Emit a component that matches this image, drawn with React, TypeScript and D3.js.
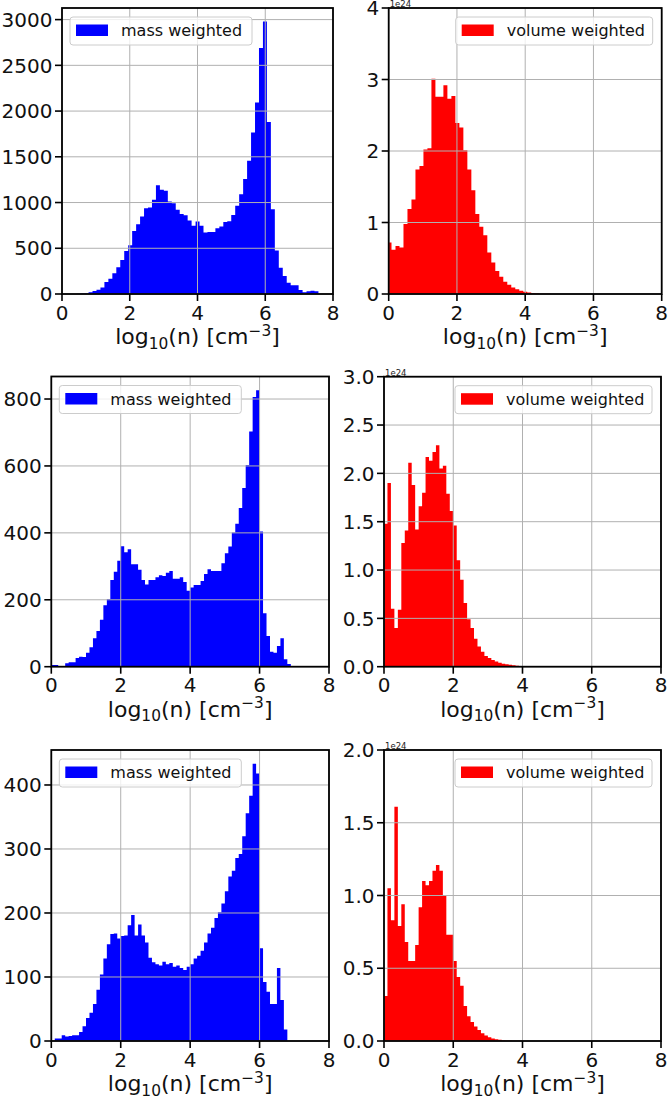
import { useEffect, useRef } from "react";
import * as d3 from "d3";

// bin layout (log10 n): top row uses ~0.117 wide bins, lower rows 0.1 wide bins
const topRowBins = { start: -0.035, width: 0.117 };
const lowerRowBins = { start: 0, width: 0.1 };

const xTicks = [0, 2, 4, 6, 8];

// mass weighted histograms (counts)
const massTop = [
  0, 0, 0, 0, 3, 5, 8, 18, 33, 47, 70, 131, 168, 226, 292, 372, 471, 533, 690, 763,
  847, 938, 945, 1030, 1190, 1139, 1130, 1011, 993, 920, 876, 861, 803, 745, 792, 745,
  672, 679, 679, 719, 737, 788, 796, 865, 964, 1091, 1256, 1456, 1767, 2095, 2690,
  2978, 1880, 927, 475, 288, 197, 124, 95, 95, 44, 18, 29, 36, 30, 0,
];
const massMid = [
  5, 5, 2, 2, 10, 13, 13, 26, 30, 29, 42, 58, 85, 107, 140, 184, 202, 259, 284, 317,
  360, 342, 351, 306, 306, 290, 259, 246, 259, 259, 267, 273, 271, 281, 286, 263, 263,
  267, 253, 227, 237, 244, 244, 256, 277, 291, 286, 286, 286, 309, 339, 359, 401, 427,
  474, 534, 603, 703, 806, 826, 404, 160, 92, 45, 42, 62, 85, 22, 8,
];
const massBottom = [
  0, 4, 4, 9, 7, 8, 9, 9, 14, 23, 36, 44, 58, 80, 104, 129, 151, 167, 168, 160, 164,
  165, 181, 197, 165, 182, 165, 154, 130, 123, 120, 118, 124, 120, 122, 116, 118, 114,
  111, 116, 120, 129, 133, 141, 154, 168, 177, 192, 201, 215, 234, 257, 266, 286, 292,
  320, 356, 383, 433, 418, 145, 92, 77, 58, 58, 114, 64, 18,
];

// volume weighted histograms (units of 1e24)
const volumeTop = [
  0.72, 0.62, 0.67, 0.65, 0.98, 1.19, 1.32, 1.74, 1.79, 2.02, 2.04, 3.01, 2.76, 2.76,
  2.92, 2.73, 2.77, 2.39, 2.33, 2.01, 1.74, 1.45, 1.12, 0.94, 0.82, 0.58, 0.44, 0.32,
  0.24, 0.17, 0.13, 0.09, 0.065, 0.047, 0.033, 0.022, 0.015, 0.009, 0.005, 0.003,
  0.002, 0.001, 0.001,
];
const volumeMid = [
  1.48, 1.9, 0.6, 0.4, 0.59, 1.28, 1.41, 2.11, 1.88, 1.42, 1.66, 1.8, 2.17, 2.13, 2.22,
  2.29, 2.05, 2.08, 1.79, 1.61, 1.46, 1.1, 0.9, 0.66, 0.49, 0.4, 0.29, 0.21, 0.155,
  0.11, 0.09, 0.07, 0.055, 0.04, 0.03, 0.025, 0.02, 0.015, 0.01, 0.007, 0.005, 0.003,
  0.002, 0.001, 0.001, 0.001,
];
const volumeBottom = [
  0.31, 1.05, 0.83, 1.61, 0.79, 0.94, 0.68, 0.55, 0.55, 0.66, 0.92, 1.1, 1.07, 1.1,
  1.17, 1.21, 1.17, 1.0, 0.73, 0.73, 0.55, 0.44, 0.38, 0.24, 0.17, 0.13, 0.1, 0.076,
  0.053, 0.037, 0.025, 0.018, 0.012, 0.008, 0.005, 0.004, 0.003, 0.002, 0.001, 0.001,
];

const massTicksTop = [0, 500, 1000, 1500, 2000, 2500, 3000];
const massTicksMid = [0, 200, 400, 600, 800];
const massTicksBottom = [0, 100, 200, 300, 400];
const volumeTicksTop = [0, 1, 2, 3, 4];
const volumeTicksMid = [0, 0.5, 1, 1.5, 2, 2.5, 3];
const volumeTicksBottom = [0, 0.5, 1, 1.5, 2];

const FONT = "DejaVu Sans, Liberation Sans, sans-serif";

type Panel = {
  values: number[];
  bins: { start: number; width: number };
  yTicks: number[];
  yFmt: (v: number) => string;
  fixedMax?: number;
  color: string;
  label: string;
  legendRight: boolean;
  frame: { left: number; right: number; top: number; bottom: number };
};

const fmtInt = d3.format("d");
const fmt1 = d3.format(".1f");

const panels: Panel[] = [
  { values: massTop, bins: topRowBins, yTicks: massTicksTop, yFmt: fmtInt, color: "#0000ff", label: "mass weighted", legendRight: false, frame: { left: 62, right: 333, top: 8, bottom: 294 } },
  { values: volumeTop, bins: topRowBins, yTicks: volumeTicksTop, yFmt: fmtInt, fixedMax: 4, color: "#ff0000", label: "volume weighted", legendRight: true, frame: { left: 388.7, right: 661.7, top: 8, bottom: 294 } },
  { values: massMid, bins: lowerRowBins, yTicks: massTicksMid, yFmt: fmtInt, color: "#0000ff", label: "mass weighted", legendRight: false, frame: { left: 51.3, right: 329, top: 376.5, bottom: 666.7 } },
  { values: volumeMid, bins: lowerRowBins, yTicks: volumeTicksMid, yFmt: fmt1, fixedMax: 3, color: "#ff0000", label: "volume weighted", legendRight: true, frame: { left: 384, right: 661, top: 376.7, bottom: 666.7 } },
  { values: massBottom, bins: lowerRowBins, yTicks: massTicksBottom, yFmt: fmtInt, color: "#0000ff", label: "mass weighted", legendRight: false, frame: { left: 51.3, right: 329, top: 750, bottom: 1041 } },
  { values: volumeBottom, bins: lowerRowBins, yTicks: volumeTicksBottom, yFmt: fmt1, fixedMax: 2, color: "#ff0000", label: "volume weighted", legendRight: true, frame: { left: 384, right: 661, top: 750, bottom: 1041 } },
];

function drawPanel(svg: any, p: Panel, idx: number) {
  const { left, right, top, bottom } = p.frame;
  const yMax = p.fixedMax ?? (d3.max(p.values) as number) * 1.05;
  const x = d3.scaleLinear().domain([0, 8]).range([left, right]);
  const y = d3.scaleLinear().domain([0, yMax]).range([bottom, top]);
  const g = svg.append("g");

  g.append("clipPath").attr("id", `clip-${idx}`).append("rect")
    .attr("x", left).attr("y", top).attr("width", right - left).attr("height", bottom - top);

  // histogram as a stepped filled area
  const pts: [number, number][] = p.values.map((v, i) => [p.bins.start + i * p.bins.width, v]);
  pts.push([p.bins.start + p.values.length * p.bins.width, p.values[p.values.length - 1]]);
  const area = d3.area<[number, number]>()
    .x(d => x(d[0])).y0(y(0)).y1(d => y(d[1]))
    .curve(d3.curveStepAfter);
  g.append("path").attr("d", area(pts)).attr("fill", p.color)
    .attr("clip-path", `url(#clip-${idx})`);

  // grid (drawn over the bars, like matplotlib)
  g.selectAll(".gx").data(xTicks).enter().append("line")
    .attr("x1", d => x(d)).attr("x2", d => x(d)).attr("y1", top).attr("y2", bottom)
    .attr("stroke", "#b0b0b0").attr("stroke-width", 1);
  g.selectAll(".gy").data(p.yTicks).enter().append("line")
    .attr("x1", left).attr("x2", right).attr("y1", d => y(d)).attr("y2", d => y(d))
    .attr("stroke", "#b0b0b0").attr("stroke-width", 1);

  // spines
  g.append("rect").attr("x", left).attr("y", top).attr("width", right - left).attr("height", bottom - top)
    .attr("fill", "none").attr("stroke", "#000").attr("stroke-width", 1.8);

  // ticks
  const tickLen = 7;
  g.selectAll(".tx").data(xTicks).enter().append("line")
    .attr("x1", d => x(d)).attr("x2", d => x(d)).attr("y1", bottom).attr("y2", bottom + tickLen)
    .attr("stroke", "#000").attr("stroke-width", 1.6);
  g.selectAll(".ty").data(p.yTicks).enter().append("line")
    .attr("x1", left - tickLen).attr("x2", left).attr("y1", d => y(d)).attr("y2", d => y(d))
    .attr("stroke", "#000").attr("stroke-width", 1.6);

  g.selectAll(".lx").data(xTicks).enter().append("text")
    .attr("x", d => x(d)).attr("y", bottom + 25.5)
    .attr("text-anchor", "middle").style("font-family", FONT).style("font-size", "20px").attr("fill", "#111")
    .text(d => String(d));
  g.selectAll(".ly").data(p.yTicks).enter().append("text")
    .attr("x", left - tickLen - 2.5).attr("y", d => y(d)).attr("dy", "0.36em")
    .attr("text-anchor", "end").style("font-family", FONT).style("font-size", "20px").attr("fill", "#111")
    .text(d => p.yFmt(d));

  // x label: log10(n) [cm^-3]
  const xl = g.append("text").attr("x", (left + right) / 2).attr("y", bottom + 50)
    .attr("text-anchor", "middle").style("font-family", FONT).style("font-size", "22px").attr("fill", "#111");
  xl.append("tspan").text("log");
  xl.append("tspan").attr("dy", 4.5).style("font-size", "15.4px").text("10");
  xl.append("tspan").attr("dy", -4.5).text("(n) [cm");
  xl.append("tspan").attr("dy", -8.5).style("font-size", "15.4px").text("\u22123");
  xl.append("tspan").attr("dy", 8.5).text("]");

  // offset text for the volume panels
  if (p.fixedMax !== undefined) {
    g.append("text").attr("x", left + 1).attr("y", top - 1.2)
      .style("font-family", FONT).style("font-size", "8.5px").attr("fill", "#222").text("1e24");
  }

  // legend
  const boxW = p.legendRight ? 197 : 182;
  const boxX = p.legendRight ? right - 9 - boxW : left + 8;
  const boxY = top + 9;
  const lg = g.append("g");
  lg.append("rect").attr("x", boxX).attr("y", boxY).attr("width", boxW).attr("height", 28)
    .attr("rx", 3).attr("fill", "#fff").attr("fill-opacity", 0.8)
    .attr("stroke", "#cccccc").attr("stroke-width", 1);
  lg.append("rect").attr("x", boxX + 6).attr("y", boxY + 7.5).attr("width", 32).attr("height", 11.5)
    .attr("fill", p.color);
  lg.append("text").attr("x", boxX + 51).attr("y", boxY + 19)
    .style("font-family", FONT).style("font-size", "16px").attr("fill", "#111").text(p.label);
}

export default function App() {
  const svgRef = useRef<SVGSVGElement | null>(null);

  useEffect(() => {
    const svg = d3.select(svgRef.current);
    svg.selectAll("*").remove();
    panels.forEach((p, i) => drawPanel(svg, p, i));
  }, []);

  return (
    <svg ref={svgRef} width={668} height={1107}
      style={{ position: "absolute", left: 0, top: 0, background: "#fff", display: "block" }} />
  );
}
